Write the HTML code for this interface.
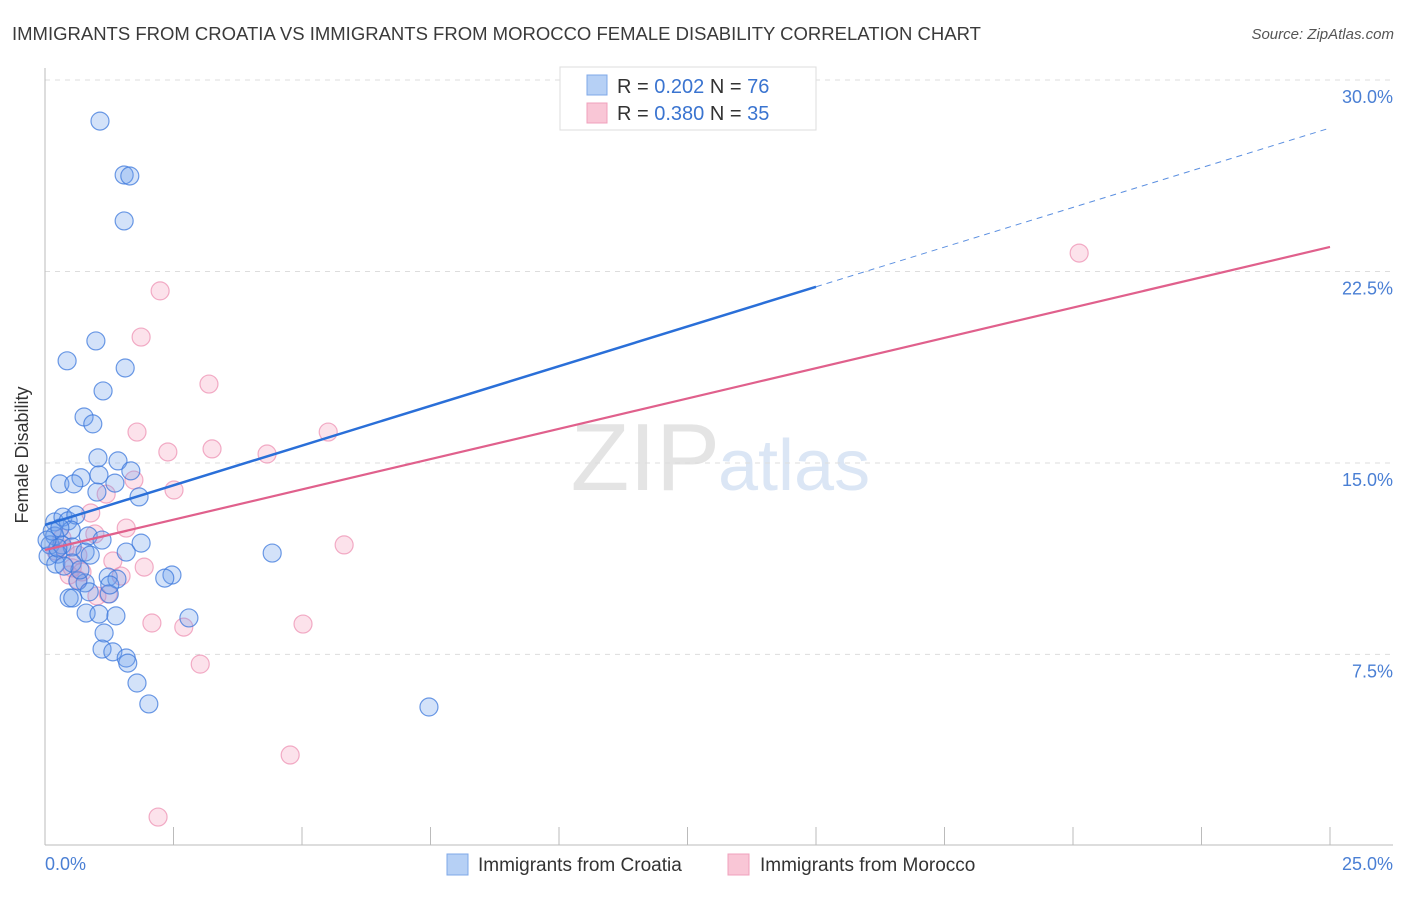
<!DOCTYPE html>
<html><head><meta charset="utf-8"><style>
body{margin:0;background:#fff;font-family:"Liberation Sans",sans-serif}
svg text{font-family:"Liberation Sans",sans-serif}
</style></head><body>
<svg width="1406" height="892">
<text x="12" y="40" font-size="18.5" fill="#3a3a3a">IMMIGRANTS FROM CROATIA VS IMMIGRANTS FROM MOROCCO FEMALE DISABILITY CORRELATION CHART</text>
<text x="1394" y="39" font-size="15" fill="#555" text-anchor="end" font-style="italic">Source: ZipAtlas.com</text>
<text x="720" y="490" font-size="96" fill="#e4e4e4" text-anchor="end" font-family="Liberation Serif">ZIP</text>
<text x="718" y="490" font-size="72" fill="#dbe6f5">atlas</text>
<g id="grid"></g><g id="axes"></g><g id="pts"></g><g id="lines"></g>
<text x="28" y="455" font-size="18" fill="#333" text-anchor="middle" transform="rotate(-90 28 455)">Female Disability</text>
<text x="45" y="870" font-size="18" fill="#4a7fd4">0.0%</text>
<text x="1393" y="870" font-size="18" fill="#4a7fd4" text-anchor="end">25.0%</text>
<g>
<rect x="560" y="67" width="256" height="63" fill="#fff" stroke="#ddd"/>
<rect x="587" y="75" width="20" height="20" fill="#b6d0f5" stroke="#7fa8e8"/>
<rect x="587" y="103" width="20" height="20" fill="#f9c6d6" stroke="#f0a0bc"/>
<text x="617" y="93" font-size="20" fill="#333">R = <tspan fill="#3a74d0">0.202</tspan>   N = <tspan fill="#3a74d0">76</tspan></text>
<text x="617" y="120" font-size="20" fill="#333">R = <tspan fill="#3a74d0">0.380</tspan>   N = <tspan fill="#3a74d0">35</tspan></text>
</g>
<g>
<rect x="447" y="854" width="21" height="21" fill="#b6d0f5" stroke="#7fa8e8"/>
<text x="478" y="871" font-size="19" fill="#333">Immigrants from Croatia</text>
<rect x="728" y="854" width="21" height="21" fill="#f9c6d6" stroke="#f0a0bc"/>
<text x="760" y="871" font-size="19" fill="#333">Immigrants from Morocco</text>
</g>
</svg>
<script>
const yTicks=[7.5,15,22.5,30];
const yTickLabels=["7.5%","15.0%","22.5%","30.0%"];
const xTicks=[2.5,5,7.5,10,12.5,15,17.5,20,22.5,25];
const croatiaX=[1.07,1.54,1.65,1.54,0.99,0.43,1.56,1.13,0.76,0.93,1.03,1.42,1.67,1.05,0.70,0.29,0.56,1.36,1.01,1.83,0.19,0.35,0.45,0.60,0.51,0.84,1.11,1.87,0.19,0.10,0.33,0.53,0.78,0.25,0.06,0.21,0.53,1.58,4.42,1.23,1.40,2.47,2.33,0.78,0.64,0.86,0.47,0.54,1.25,0.80,1.05,1.38,2.80,1.15,1.11,1.32,1.58,1.61,1.79,2.02,7.47,10.35,0.25,0.14,1.26,0.68,0.37,0.88,0.04,0.29];
const croatiaY=[28.39,26.28,26.24,24.48,19.78,19.0,18.72,17.82,16.80,16.53,15.20,15.08,14.69,14.53,14.42,14.18,14.18,14.21,13.86,13.67,12.69,12.88,12.73,12.96,12.37,12.14,11.98,11.86,12.14,11.79,11.79,11.71,11.51,11.43,11.35,11.04,11.08,11.51,11.47,10.53,10.45,10.61,10.49,10.30,10.38,9.95,9.71,9.71,9.87,9.12,9.08,9.01,8.93,8.34,7.71,7.60,7.36,7.16,6.38,5.56,5.44,29.49,11.67,12.33,10.22,10.81,10.96,11.39,11.98,12.45];
const moroccoX=[2.24,1.87,3.19,1.79,2.39,3.25,4.32,5.51,1.19,1.73,2.51,0.89,1.58,0.97,5.82,1.32,1.93,0.47,0.64,1.48,1.23,2.08,2.70,5.02,3.02,4.77,2.20,20.12,0.39,0.21,0.64,0.53,0.72,0.33,1.01];
const moroccoY=[21.74,19.93,18.09,16.21,15.43,15.55,15.35,16.21,13.78,14.33,13.94,13.04,12.45,12.22,11.79,11.16,10.92,10.61,10.42,10.57,9.87,8.73,8.57,8.69,7.12,3.56,1.13,23.22,11.63,11.55,11.39,10.89,10.73,12.06,9.79];
const croatiaTrend=[12.57,28.12]; // y at x=0 and x=25
const croatiaSolidEnd=15.0;
const moroccoTrend=[11.59,23.46];
const X=v=>45+v*51.4, Y=v=>80+(30-v)*25.53;
const NS="http://www.w3.org/2000/svg";
function mk(t,a,p){const e=document.createElementNS(NS,t);for(const k in a)e.setAttribute(k,a[k]);p.appendChild(e);return e;}
const grid=document.getElementById('grid'),axes=document.getElementById('axes'),pts=document.getElementById('pts'),lines=document.getElementById('lines');
yTicks.forEach((t,i)=>{
 const l=mk('line',{x1:45,x2:1393,y1:Y(t),y2:Y(t),stroke:'#ddd','stroke-dasharray':'5,5'},grid);
 
 
 const tx=mk('text',{x:1393,y:Y(t)+23,'font-size':18,fill:'#4a7fd4','text-anchor':'end'},grid);
 tx.textContent=yTickLabels[i];
 
 
});
const xa=mk('line',{x1:45,x2:1393,y1:845,y2:845,stroke:'#bbb'},axes);


const ya=mk('line',{x1:45,x2:45,y1:68,y2:845,stroke:'#bbb'},axes);


xTicks.forEach(t=>{
 const l=mk('line',{x1:X(t),x2:X(t),y1:827,y2:845,stroke:'#bbb'},axes);
 
 
});
function dots(xs,ys,fill,stroke,name){xs.forEach((x,i)=>{
 const c=mk('circle',{cx:X(x),cy:Y(ys[i]),r:9,fill:fill,stroke:stroke,'stroke-width':1.2},pts);
 
 
});}
dots(moroccoX,moroccoY,'rgba(244,160,190,0.3)','rgba(236,140,175,0.7)','morocco-point');
dots(croatiaX,croatiaY,'rgba(110,160,235,0.3)','rgba(60,120,220,0.75)','croatia-point');
const cy=x=>croatiaTrend[0]+(croatiaTrend[1]-croatiaTrend[0])*x/25;
let l1=mk('line',{x1:X(0),y1:Y(cy(0)),x2:X(croatiaSolidEnd),y2:Y(cy(croatiaSolidEnd)),stroke:'#2a6fd8','stroke-width':2.5},lines);


let l2=mk('line',{x1:X(croatiaSolidEnd),y1:Y(cy(croatiaSolidEnd)),x2:X(25),y2:Y(cy(25)),stroke:'#5b8fe0','stroke-width':1,'stroke-dasharray':'6,5'},lines);


let l3=mk('line',{x1:X(0),y1:Y(moroccoTrend[0]),x2:X(25),y2:Y(moroccoTrend[1]),stroke:'#e0608c','stroke-width':2.2},lines);


</script>
</body></html>
